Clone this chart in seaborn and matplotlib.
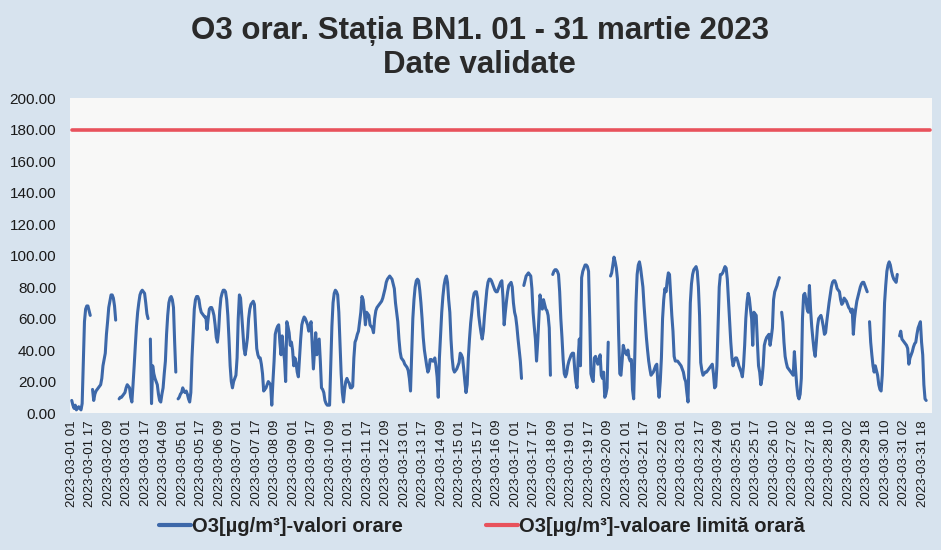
import numpy as np
import pandas as pd
import matplotlib
matplotlib.use("Agg")
import matplotlib.pyplot as plt
from matplotlib.lines import Line2D
import seaborn as sns

N = np.nan

# ---- hourly O3 values (ug/m3), day by day ----
day01 = [8, 5, 3, 5, 2, 3, 4, 3, 2, 6, 32, 58, 66, 68, 68, 65, 62, N, 15, 8, 12, 14, 15, 16]
day02 = [17, 18, 22, 30, 34, 38, 50, 58, 67, 71, 75, 75, 73, 68, 59, N, N, 9, 10, 10, 11, 12, 13, 16]
day03 = [18, 17, 16, 10, 7, 18, 30, 43, 55, 64, 70, 75, 77, 78, 77, 76, 70, 63, 60, N, 47, 6, 30, 25]
day04 = [22, 20, 18, 12, 8, 7, 12, 16, 25, 33, 50, 62, 70, 73, 74, 72, 67, 45, 26, N, 9, 10, 12, 13]
day05 = [16, 14, 13, 14, 12, 9, 7, 13, 35, 50, 66, 72, 74, 74, 72, 67, 64, 63, 62, 61, 61, 53, 60, 66]
day06 = [67, 67, 65, 62, 56, 48, 45, 52, 65, 73, 76, 78, 78, 77, 72, 62, 47, 30, 20, 16, 20, 22, 24, 35]
day07 = [60, 75, 73, 62, 50, 41, 37, 42, 48, 60, 66, 69, 70, 71, 69, 55, 41, 37, 35, 35, 31, 25, 14, 15]
day08 = [16, 18, 20, 19, 18, 5, 20, 33, 50, 53, 55, 56, 45, 37, 49, 40, 34, 20, 58, 55, 51, 43, 45, 40]
day09 = [30, 35, 32, 26, 23, 35, 47, 56, 59, 61, 60, 58, 56, 52, 55, 58, 43, 28, 40, 51, 37, 42, 47, 33]
day10 = [16, 15, 13, 8, 6, 5, 5, 5, 30, 55, 70, 76, 78, 77, 75, 64, 45, 25, 13, 7, 15, 20, 22, 20]
day11 = [19, 16, 16, 17, 35, 45, 47, 50, 52, 58, 64, 74, 72, 65, 56, 64, 63, 62, 56, 55, 54, 51, 60, 65]
day12 = [67, 68, 69, 70, 71, 73, 76, 79, 83, 85, 86, 87, 86, 85, 82, 79, 70, 64, 58, 47, 39, 35, 34, 33]
day13 = [31, 30, 29, 27, 22, 14, 37, 60, 72, 80, 84, 85, 84, 78, 70, 60, 48, 40, 35, 30, 26, 28, 34, 34]
day14 = [33, 33, 35, 30, 23, 10, 35, 50, 64, 74, 81, 85, 87, 83, 72, 64, 47, 35, 28, 26, 27, 28, 30, 32]
day15 = [38, 37, 35, 28, 20, 13, 18, 35, 47, 57, 64, 72, 76, 77, 77, 73, 62, 56, 51, 47, 52, 62, 70, 78]
day16 = [83, 85, 85, 84, 82, 80, 78, 77, 77, 79, 81, 83, 84, 73, 56, 64, 71, 77, 81, 82, 83, 80, 70, 64]
day17 = [61, 55, 47, 40, 33, 22, N, 81, 84, 87, 88, 89, 88, 87, 79, 64, 55, 47, 33, 45, 60, 75, 70, 66]
day18 = [72, 69, 66, 65, 62, 54, 24, N, 88, 90, 91, 91, 90, 88, 77, 60, 48, 34, 25, 23, 25, 30, 33, 35]
day19 = [37, 38, 38, 28, 20, 16, 35, 47, 30, 86, 90, 92, 94, 94, 93, 90, 60, 25, 22, 20, 35, 36, 34, 31]
day20 = [33, 37, 24, 22, 26, 10, 12, 16, 45, N, 87, 89, 94, 99, 96, 92, 85, 50, 25, 24, 33, 43, 40, 38]
day21 = [37, 40, 35, 33, 34, 15, 9, 37, 70, 88, 94, 96, 92, 86, 80, 68, 58, 48, 40, 33, 28, 24, 25, 26]
day22 = [28, 30, 31, 18, 10, 20, 35, 60, 72, 79, 77, 84, 89, 88, 75, 62, 52, 36, 33, 33, 33, 32, 31, 30]
day23 = [28, 26, 22, 20, 13, 7, 40, 70, 82, 88, 91, 92, 93, 90, 80, 62, 32, 27, 24, 25, 26, 26, 27, 28]
day24 = [29, 30, 31, 25, 16, 17, 30, 54, 80, 88, 88, 89, 91, 93, 92, 85, 72, 60, 45, 35, 30, 33, 35, 35]
day25 = [33, 30, 28, 26, 23, 30, 43, 60, 70, 76, 73, 66, 60, 43, 64, 63, 62, 45, 30, 26, 18, 22, 30, 43]
day26 = [46, 48, 49, 50, 43, 48, 54, 72, 77, 79, 81, 84, 86, N, 64, 58, 45, 36, 32, 29, 28, 27, 26]
day27 = [25, 24, 39, 28, 18, 11, 9, 12, 22, 60, 75, 76, 72, 66, 64, 81, 66, 55, 47, 40, 36, 45, 55, 60]
day28 = [61, 62, 59, 55, 50, 51, 58, 64, 70, 75, 80, 83, 84, 84, 82, 79, 78, 77, 72, 69, 70, 73, 72, 71]
day29 = [69, 67, 66, 64, 66, 50, 60, 66, 71, 74, 77, 80, 82, 83, 83, 81, 79, 77, N, 58, 45, 37, 30, 26]
day30 = [30, 27, 24, 18, 15, 14, 24, 45, 70, 81, 90, 94, 96, 94, 90, 87, 85, 84, 83, 88, N, 49, 52, 47]
day31 = [46, 45, 44, 43, 41, 31, 35, 37, 39, 42, 44, 45, 50, 54, 56, 58, 45, 37, 18, 9, 8, N, N, N]

limit_value = 180  # hourly limit value (ug/m3)

tick_labels = [
    "2023-03-01 01", "2023-03-01 17", "2023-03-02 09", "2023-03-03 01", "2023-03-03 17",
    "2023-03-04 09", "2023-03-05 01", "2023-03-05 17", "2023-03-06 09", "2023-03-07 01",
    "2023-03-07 17", "2023-03-08 09", "2023-03-09 01", "2023-03-09 17", "2023-03-10 09",
    "2023-03-11 01", "2023-03-11 17", "2023-03-12 09", "2023-03-13 01", "2023-03-13 17",
    "2023-03-14 09", "2023-03-15 01", "2023-03-15 17", "2023-03-16 09", "2023-03-17 01",
    "2023-03-17 17", "2023-03-18 09", "2023-03-19 01", "2023-03-19 17", "2023-03-20 09",
    "2023-03-21 01", "2023-03-21 17", "2023-03-22 09", "2023-03-23 01", "2023-03-23 17",
    "2023-03-24 09", "2023-03-25 01", "2023-03-25 17", "2023-03-26 10", "2023-03-27 02",
    "2023-03-27 18", "2023-03-28 10", "2023-03-29 02", "2023-03-29 18", "2023-03-30 10",
    "2023-03-31 02", "2023-03-31 18",
]

title_text = "O3 orar. Stația BN1. 01 - 31 martie 2023\nDate validate"
label_series = "O3[µg/m³]-valori orare"
label_limit = "O3[µg/m³]-valoare limită orară"

# ---- assemble ----
days = [day01, day02, day03, day04, day05, day06, day07, day08, day09, day10,
        day11, day12, day13, day14, day15, day16, day17, day18, day19, day20,
        day21, day22, day23, day24, day25, day26, day27, day28, day29, day30, day31]
o3 = np.array([v for d in days for v in d], dtype=float)
n = len(o3)
idx = np.arange(n)

df = pd.DataFrame({"idx": idx, "o3": o3})
df["seg"] = df["o3"].isna().cumsum()
df_valid = df.dropna()
df_lim = pd.DataFrame({"idx": idx, "lim": [limit_value] * n})

BLUE = "#3d68a9"
RED = "#e8525c"
BG = "#d7e3ee"
PLOT_BG = "#f8f8f7"
TXT = "#1a1a1a"

sns.set_theme(style="white")
plt.rcParams["font.family"] = ["Liberation Sans", "DejaVu Sans"]

fig = plt.figure(figsize=(9.41, 5.50), dpi=100, facecolor=BG)
ax = fig.add_axes([0.0744, 0.249, 0.916, 0.5727])
ax.set_facecolor(PLOT_BG)

sns.lineplot(data=df_lim, x="idx", y="lim", color=RED, lw=2.6, ax=ax, legend=False)
sns.lineplot(data=df_valid, x="idx", y="o3", units="seg", estimator=None,
             color=BLUE, lw=2.2, ax=ax, legend=False, sort=True)

ax.set_xlim(-1.5, n + 1)
ax.set_ylim(0, 200)
yt = list(range(0, 201, 20))
ax.set_yticks(yt)
ax.set_yticklabels([f"{v:.2f}" for v in yt], fontsize=11, color=TXT)
ax.set_xticks(idx[::16][:len(tick_labels)])
ax.set_xticklabels(tick_labels, rotation=90, fontsize=9.5, color=TXT)
ax.tick_params(axis="both", length=0)
ax.tick_params(axis="y", pad=10)
ax.tick_params(axis="x", pad=5)
ax.set_xlabel("")
ax.set_ylabel("")
for s in ax.spines.values():
    s.set_visible(False)
ax.grid(False)

fig.text(0.51, 0.913, title_text, ha="center", va="center", fontsize=22.5,
         fontweight="bold", color="#2a2a2a", linespacing=1.15)

handles = [Line2D([], [], color=BLUE, lw=3), Line2D([], [], color=RED, lw=3)]
fig.legend(handles, [label_series, label_limit], loc="center",
           bbox_to_anchor=(0.512, 0.042), ncol=2, frameon=False,
           prop={"weight": "bold", "size": 14.5}, handlelength=1.6,
           handletextpad=0.05, columnspacing=4.1, labelcolor="#222222")

fig.savefig("out.png", dpi=100, facecolor=BG)
